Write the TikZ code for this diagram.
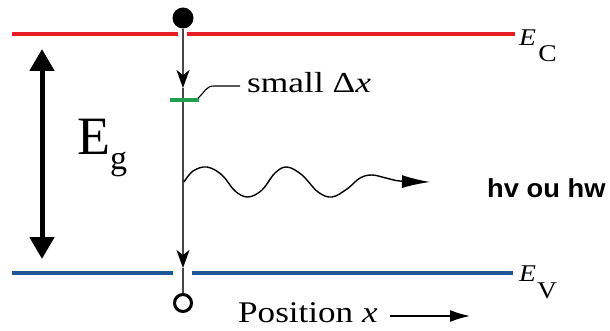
\documentclass[tikz,border=0pt]{standalone}
\usepackage{fontspec}
\usepackage{graphicx}
\setmainfont{Liberation Serif}
\newfontfamily\hvfont{Liberation Sans}
\usetikzlibrary{arrows.meta}
\definecolor{ecred}{RGB}{228,30,36}
\definecolor{evblue}{RGB}{30,85,150}
\definecolor{bargreen}{RGB}{30,160,80}
\definecolor{vgrey}{RGB}{70,70,70}
\begin{document}
\begin{tikzpicture}[x=1pt,y=-1pt,
  band/.style={line width=4pt},
  vline/.style={vgrey, line width=1.6pt},
  vhead/.style={-{Stealth[length=18pt,width=13pt,inset=5pt,black]}},
  lbl/.style={anchor=base west, inner sep=0pt}]
\useasboundingbox (0,0) rectangle (610,331);
% band edges
\coordinate (ecL) at (12,34);
\coordinate (ecA) at (178,34);
\coordinate (ecB) at (187,34);
\coordinate (ecR) at (515,34);
\coordinate (evL) at (12,273);
\coordinate (evA) at (173,273);
\coordinate (evB) at (192,273);
\coordinate (evR) at (513,273);
\draw[band, ecred] (ecL) -- (ecA);
\draw[band, ecred] (ecB) -- (ecR);
\draw[band, evblue] (evL) -- (evA);
\draw[band, evblue] (evB) -- (evR);
% electron and hole
\node[circle, fill=black, minimum size=21pt, inner sep=0pt] (top) at (183,18) {};
\node[circle, draw=black, line width=3pt, minimum size=17pt, inner sep=0pt] (hole) at (183,303) {};
\coordinate (a1) at (183,88);
\coordinate (a2) at (183,268);
\draw[vline, vhead] (top) -- (a1);
\draw[vline, vhead] (a1) -- (a2);
\draw[vline] (a2) -- (hole);
% green bar
\coordinate (gL) at (170,100);
\coordinate (gR) at (199,100);
\draw[bargreen, line width=4pt] (gL) -- (gR);
% leader and label
\coordinate (ldrA) at (198,98);
\coordinate (ldrB) at (214,86);
\coordinate (ldrC) at (240,86);
\draw[black, line width=1.1pt] (ldrA) .. controls (205,92) and (206,86) .. (ldrB) -- (ldrC);
\node[lbl, font=\fontsize{29}{33}\selectfont] (small) at (247,93) {\scalebox{1.22}[1]{small Δ\textit{x}}};
% photon
\draw[black, line width=1.4pt, -{Latex[length=28pt,width=13pt]}]
  plot[smooth, tension=0.6] coordinates {(184,182) (193,171) (207,167) (222,175) (235,191) (248,197) (262,190) (275,173) (287,167) (302,175) (318,192) (332,197) (347,189) (360,178) (372,175) (386,178) (400,181) (430,182)};
\node[lbl, font=\hvfont\bfseries\fontsize{26}{30}\selectfont] (hv) at (487,197) {\scalebox{1.05}[1]{hv ou hw}};
% gap arrow
\coordinate (egT) at (42,49);
\coordinate (egB) at (42,259);
\draw[black, line width=5pt, {Triangle[length=22pt,width=24pt]}-{Triangle[length=22pt,width=24pt]}] (egT) -- (egB);
\node[lbl, font=\fontsize{54}{60}\selectfont] (eg) at (77,155) {E\raisebox{-15pt}{\fontsize{34}{36}\selectfont g}};
% band labels
\node[lbl, font=\fontsize{24}{28}\selectfont] (ec) at (519,46) {\scalebox{1.15}[1]{\textit{E}\kern2pt\raisebox{-16pt}{C}}};
\node[lbl, font=\fontsize{24}{28}\selectfont] (ev) at (519,281) {\scalebox{1.15}[1]{\textit{E}\kern1pt\raisebox{-17pt}{V}}};
% position
\node[lbl, font=\fontsize{30}{34}\selectfont] (pos) at (238,322) {\scalebox{1.17}[1]{Position \textit{x}}};
\coordinate (pa1) at (390,316);
\coordinate (pa2) at (470,316);
\draw[black, line width=1.5pt, -{Latex[length=20pt,width=12pt]}] (pa1) -- (pa2);
\end{tikzpicture}
\end{document}
